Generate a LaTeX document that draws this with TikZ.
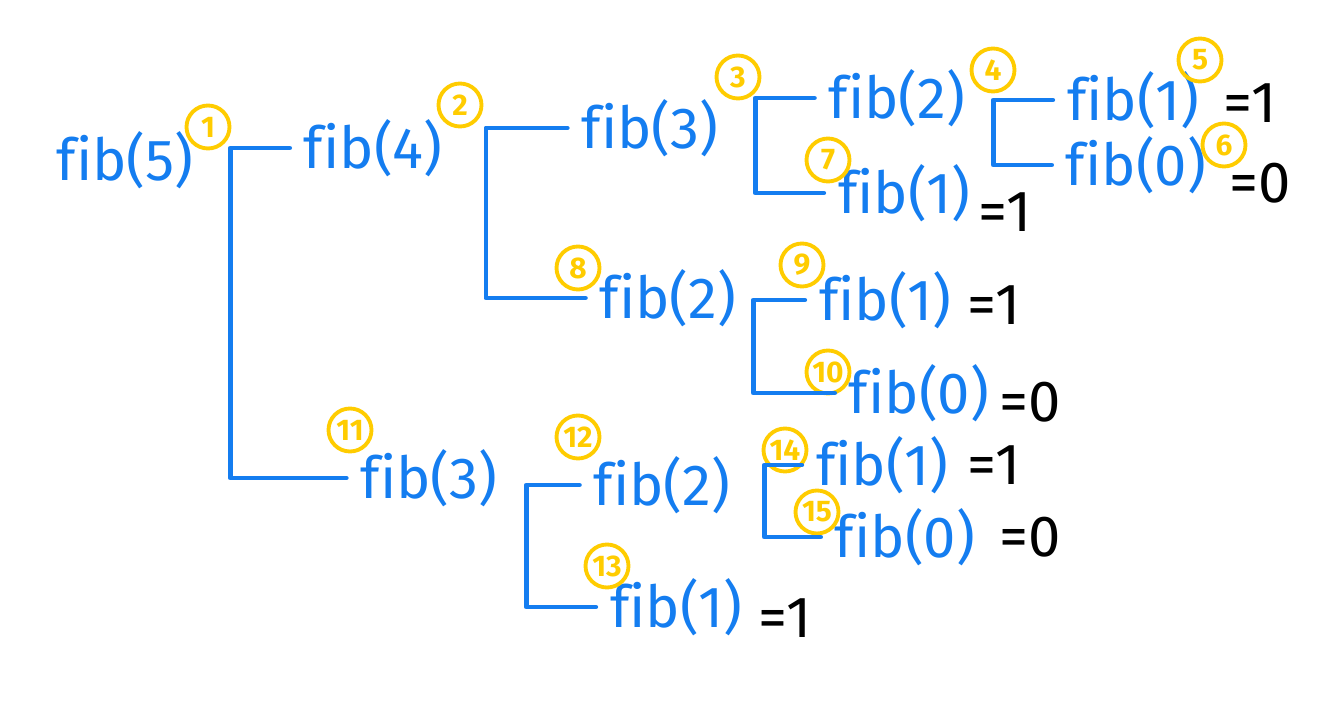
\documentclass[tikz,border=0pt]{standalone}
\usepackage{fontspec}
\setmainfont[Ligatures=NoCommon]{Fira Sans}
\definecolor{callblue}{RGB}{20,125,240}
\definecolor{stepyellow}{RGB}{255,204,0}
\begin{document}
\begin{tikzpicture}[x=0.02cm, y=-0.02cm,
    call/.style={text=callblue, font=\fontsize{33}{36}\selectfont, inner sep=3pt},
    order/.style={circle, draw=stepyellow, line width=2.2pt, text=stepyellow,
                  font=\fontsize{17}{19}\selectfont\bfseries, minimum size=0.86cm, inner sep=0pt},
    result/.style={text=black, font=\fontsize{33}{36}\selectfont},
    link/.style={draw=callblue, line width=2.8pt, line cap=round, line join=round,
                 shorten <=5pt, shorten >=5pt}]

    % Canvas
    \useasboundingbox (0,0) rectangle (1343,702);

    % Calls of the recursion
    \node[call] (f5)  at (125,160) {fib(5)};
    \node[call] (f4)  at (373,148) {fib(4)};
    \node[call] (f3a) at (650,128) {fib(3)};
    \node[call] (f2a) at (897,98)  {fib(2)};
    \node[call] (f1a) at (1133,100) {fib(1)};
    \node[call] (f0a) at (1136,165) {fib(0)};
    \node[call] (f1b) at (904,193) {fib(1)};
    \node[call] (f2b) at (668,298) {fib(2)};
    \node[call] (f1c) at (885,300) {fib(1)};
    \node[call] (f0b) at (919,393) {fib(0)};
    \node[call] (f3b) at (429,478) {fib(3)};
    \node[call] (f2c) at (662,485) {fib(2)};
    \node[call] (f1d) at (676,607) {fib(1)};
    \node[call] (f1e) at (882,465) {fib(1)};
    \node[call] (f0c) at (905,537) {fib(0)};

    % Base case values
    \node[result] (r1a) at (1250,103) {=1};
    \node[result] (r0a) at (1260,183) {=0};
    \node[result] (r1b) at (1005,212) {=1};
    \node[result] (r1c) at (994,305)  {=1};
    \node[result] (r0b) at (1030,402) {=0};
    \node[result] (r1e) at (994,465)  {=1};
    \node[result] (r0c) at (1030,537) {=0};
    \node[result] (r1d) at (785,618)  {=1};

    % Order of the calls
    \node[order] (o1)  at (208,127) {1};
    \node[order] (o2)  at (460,105) {2};
    \node[order] (o3)  at (738,77)  {3};
    \node[order] (o4)  at (993,70)  {4};
    \node[order] (o5)  at (1200,60) {5};
    \node[order] (o6)  at (1224,145) {6};
    \node[order] (o7)  at (828,160) {7};
    \node[order] (o8)  at (578,268) {8};
    \node[order] (o9)  at (802,265) {9};
    \node[order] (o10) at (828,372) {10};
    \node[order] (o11) at (350,430) {11};
    \node[order] (o12) at (578,437) {12};
    \node[order] (o13) at (607,566) {13};
    \node[order] (o14) at (785,450) {14};
    \node[order] (o15) at (817,512) {15};

    % Brackets from each call to its two children
    \draw[link] (f4.west)  -- ++(-68,0) |- (f3b.west);
    \draw[link] (f3a.west) -- ++(-90,0) |- (f2b.west);
    \draw[link] (f2a.west) -- ++(-68,0) |- (f1b.west);
    \draw[link] (f1a.west) -- ++(-68,0) |- (f0a.west);
    \draw[link] (f1c.west) -- ++(-60,0) |- (f0b.west);
    \draw[link] (f2c.west) -- ++(-62,0) |- (f1d.west);
    \draw[link] (f1e.west) -- ++(-46,0) |- (f0c.west);
\end{tikzpicture}
\end{document}
